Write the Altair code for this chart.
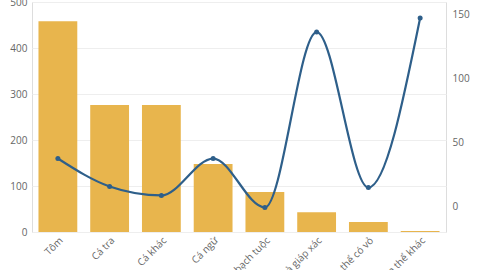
import altair as alt
import pandas as pd

categories = ["Tôm", "Cá tra", "Cá khác", "Cá ngừ", "Mực, bạch tuộc",
              "Cua, ghẹ và giáp xác", "Nhuyễn thể có vỏ", "Nhuyễn thể khác"]
bar_values = [458, 276, 276, 148, 87, 43, 22, 2]
line_values = [37.5, 15.6, 8.6, 37.5, -0.8, 136.5, 14.8, 147.5]

df = pd.DataFrame({"cat": categories, "bar": bar_values, "line": line_values})

x = alt.X("cat:N", sort=categories, title=None,
          scale=alt.Scale(paddingInner=0.25, paddingOuter=0.125),
          axis=alt.Axis(labelAngle=-45, labelColor="#666666", labelFontSize=10,
                        labelFont="Open Sans", ticks=False, domain=False, labelPadding=3))

bars = alt.Chart(df).mark_bar(color="#E8B54D").encode(
    x=x,
    y=alt.Y("bar:Q", title=None, scale=alt.Scale(domain=[0, 500], nice=False),
            axis=alt.Axis(values=[0, 100, 200, 300, 400, 500], labelColor="#666666",
                          labelFontSize=10, labelFont="Open Sans", ticks=False, domain=False,
                          gridColor="#EEEEEE", labelPadding=5)),
)

line = alt.Chart(df).mark_line(color="#2E5F8A", strokeWidth=2.2, interpolate="monotone",
                               point=alt.OverlayMarkDef(color="#2E5F8A", size=25, filled=True)).encode(
    x=x,
    y=alt.Y("line:Q", title=None, scale=alt.Scale(domain=[-20, 160], nice=False),
            axis=alt.Axis(values=[0, 50, 100, 150], orient="right", labelColor="#666666",
                          labelFontSize=10, labelFont="Open Sans", ticks=False, domain=False,
                          grid=False, labelPadding=6)),
)

chart = alt.layer(bars, line).resolve_scale(y="independent").properties(
    width=414, height=230,
    autosize=alt.AutoSizeParams(type="none"),
    padding={"left": 32, "top": 2, "right": 34, "bottom": 80},
).configure_view(stroke="#EEEEEE").configure(background="white")

chart.save("out.html", embed_options={"renderer": "svg", "actions": False})
